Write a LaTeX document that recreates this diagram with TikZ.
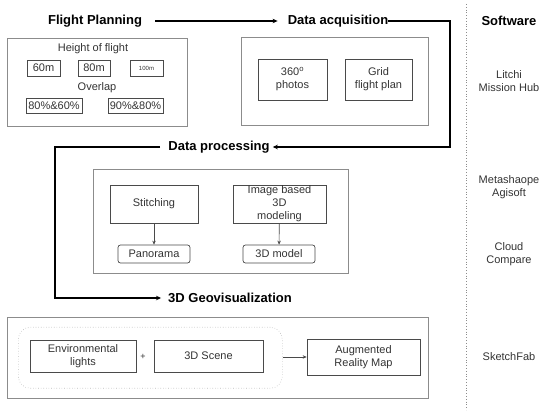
\documentclass[tikz,border=0pt]{standalone}
\usepackage{fontspec}
\setmainfont{Liberation Sans}
\usetikzlibrary{arrows.meta,positioning,calc}
\definecolor{outerg}{HTML}{8C8C8C}
\definecolor{innerg}{HTML}{4A4A4A}
\definecolor{txtg}{HTML}{333333}
\tikzset{
  heading/.style={font=\bfseries\fontsize{13}{15}\selectfont, inner sep=0pt, text=black},
  lbl/.style={font=\fontsize{11}{13}\selectfont, align=center, text=txtg, inner sep=0pt},
  outerbox/.style={draw=outerg, line width=0.8pt},
  innerbox/.style={draw=innerg, line width=0.7pt, align=center, font=\fontsize{11}{13}\selectfont, text=txtg, inner sep=0pt},
  roundbox/.style={innerbox, rounded corners=2.5pt},
  flow/.style={line width=1.2pt, -{Stealth[length=5pt,width=4.5pt]}},
  small/.style={line width=0.6pt, innerg, -{Stealth[length=4pt,width=3.5pt]}},
}
\begin{document}
\begin{tikzpicture}[x=1pt,y=-1pt]
\useasboundingbox (0,0) rectangle (550,414);
% headings
\node[heading] (fp) at (95,21) {Flight Planning};
\node[heading] (da) at (338,21) {Data acquisition};
\node[heading] (dp) at (219,147) {Data processing};
\node[heading] (geo) at (230,298) {3D Geovisualization};
\node[heading] (sw) at (509,21) {Software};
% software
\node[lbl] (s1) at (509,81) {Litchi\\Mission Hub};
\node[lbl] (s2) at (509,187) {Metashaope\\Agisoft};
\node[lbl] (s3) at (509,254) {Cloud\\Compare};
\node[lbl] (s4) at (509,357) {SketchFab};
\draw[outerg, line width=0.8pt, dotted] (466,4) -- (466,410);
% flow connectors
\coordinate (c1) at (450,21);
\coordinate (c2) at (55,147);
\draw[flow] ([xshift=13pt]fp.east) -- ([xshift=-10pt]da.west);
\draw[flow] (da.east) -- (c1) |- ([xshift=3pt]dp.east);
\draw[flow] ([xshift=-8pt]dp.west) -- (c2) |- ([xshift=-7pt]geo.west);
% flight planning box
\node[outerbox, minimum width=180pt, minimum height=88pt, anchor=north west, inner sep=0pt] (fpbox) at (7,38) {};
\node[lbl] (hof) at (93,49) {Height of flight};
\node[innerbox, minimum width=33pt, minimum height=16pt] (h60) at (43.5,68) {60m};
\node[innerbox, minimum width=32pt, minimum height=16pt] (h80) at (94,68) {80m};
\node[innerbox, minimum width=33pt, minimum height=16pt, font=\fontsize{6}{7}\selectfont] (h100) at (146.5,68) {100m};
\node[lbl] (ovl) at (97,88) {Overlap};
\node[innerbox, minimum width=56pt, minimum height=15pt] (o1) at (54,105.5) {80\%\&60\%};
\node[innerbox, minimum width=55pt, minimum height=15pt] (o2) at (135.5,105.5) {90\%\&80\%};
% data acquisition box
\node[outerbox, minimum width=187pt, minimum height=88pt, anchor=north west, inner sep=0pt] (dabox) at (241,37) {};
\node[innerbox, minimum width=69pt, minimum height=41pt] (photos) at (292.5,79.5) {360\textsuperscript{o}\\photos};
\node[innerbox, minimum width=67pt, minimum height=41pt] (grid) at (378.5,79.5) {Grid\\flight plan};
% data processing box
\node[outerbox, minimum width=255pt, minimum height=104pt, anchor=north west, inner sep=0pt] (dpbox) at (93,169) {};
\node[innerbox, minimum width=88pt, minimum height=38pt] (stitch) at (154,204) {Stitching};
\node[innerbox, minimum width=93pt, minimum height=38pt] (ibm) at (279.5,204) {Image based\\3D\\modeling};
\node[roundbox, minimum width=72pt, minimum height=18pt] (pano) at (154,254) {Panorama};
\node[roundbox, minimum width=72pt, minimum height=18pt] (model) at (279,254) {3D model};
\draw[small] (stitch) -- (pano);
\draw[small] (ibm) -- (model);
% geovisualization box
\node[outerbox, minimum width=421pt, minimum height=81pt, anchor=north west, inner sep=0pt] (geobox) at (7,317) {};
\node[draw=outerg!60, dotted, line width=0.6pt, rounded corners=12pt, minimum width=264pt, minimum height=61pt, anchor=north west, inner sep=0pt] (grp) at (18,327) {};
\node[innerbox, minimum width=106pt, minimum height=32pt] (env) at (83,356) {Environmental\\lights};
\node[lbl, font=\fontsize{9}{10}\selectfont] (plus) at (143,357) {+};
\node[innerbox, minimum width=109pt, minimum height=32pt] (scene) at (208.5,356) {3D Scene};
\node[innerbox, minimum width=113pt, minimum height=36pt] (arm) at (363.5,357) {Augmented\\Reality Map};
\draw[small] (grp.east |- arm.west) -- (arm.west);
\end{tikzpicture}
\end{document}
